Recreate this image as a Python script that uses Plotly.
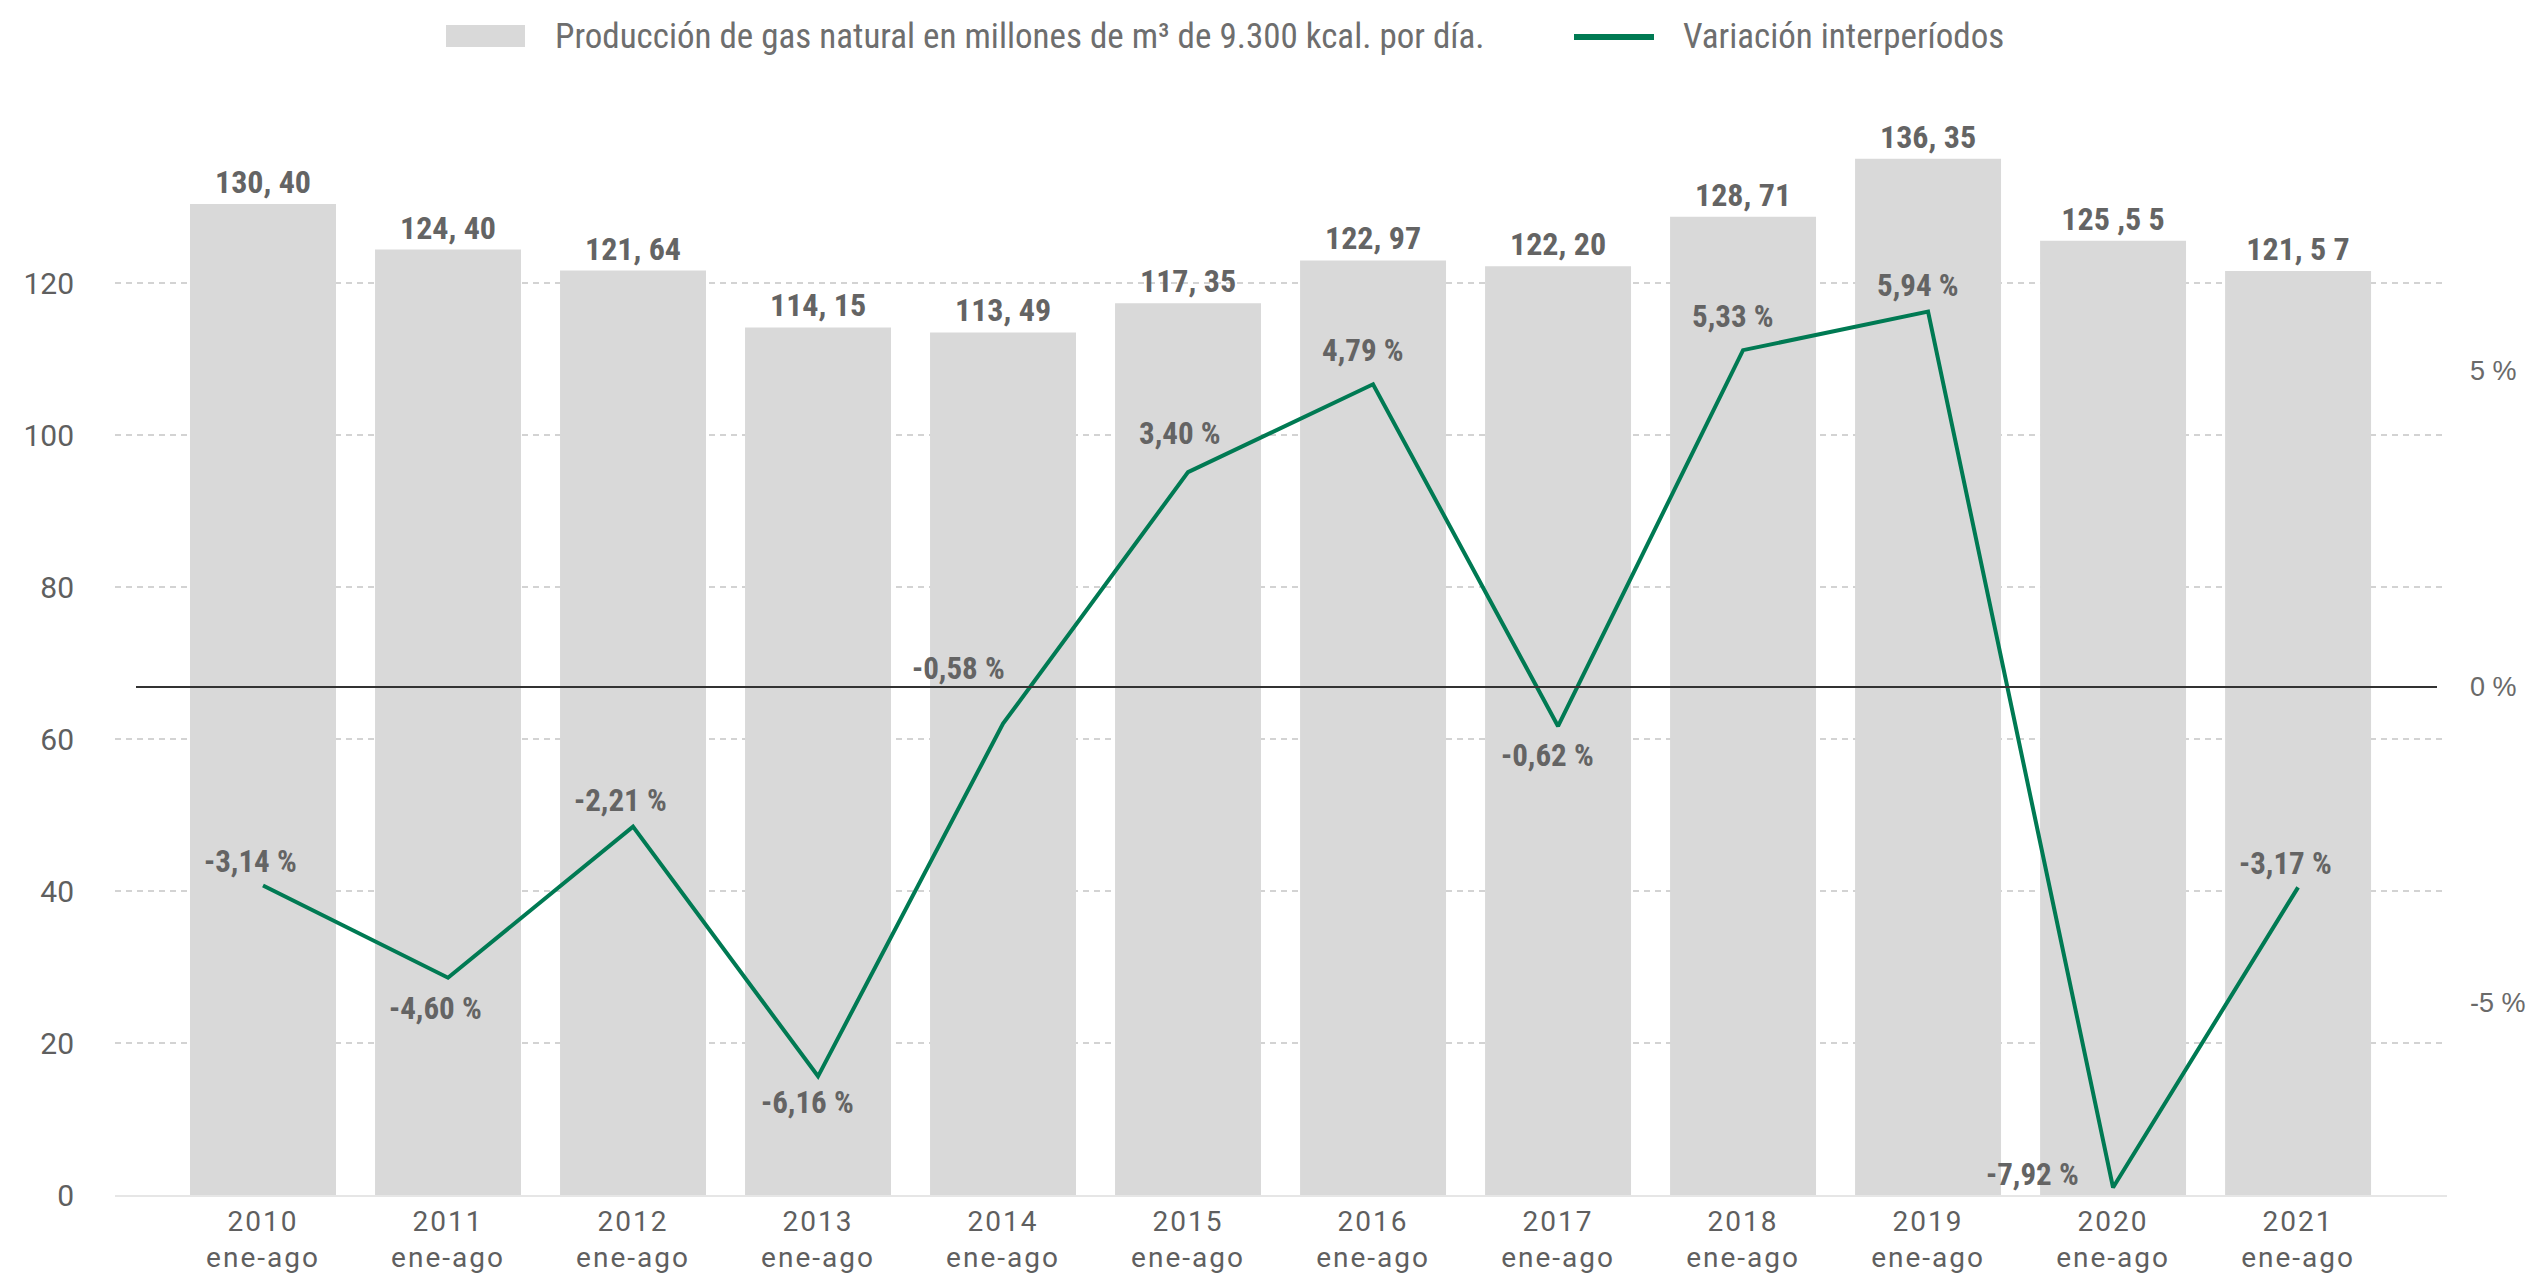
import plotly.graph_objects as go

# ---------------- data ----------------
years = ["2010", "2011", "2012", "2013", "2014", "2015",
         "2016", "2017", "2018", "2019", "2020", "2021"]
period = "ene-ago"
production = [130.40, 124.40, 121.64, 114.15, 113.49, 117.35,
              122.97, 122.20, 128.71, 136.35, 125.55, 121.57]
production_labels = ["130, 40", "124, 40", "121, 64", "114, 15", "113, 49", "117, 35",
                     "122, 97", "122, 20", "128, 71", "136, 35", "125 ,5 5", "121, 5 7"]
variation = [-3.14, -4.60, -2.21, -6.16, -0.58, 3.40,
             4.79, -0.62, 5.33, 5.94, -7.92, -3.17]
variation_labels = ["-3,14 %", "-4,60 %", "-2,21 %", "-6,16 %", "-0,58 %", "3,40 %",
                    "4,79 %", "-0,62 %", "5,33 %", "5,94 %", "-7,92 %", "-3,17 %"]
left_ticks = [0, 20, 40, 60, 80, 100, 120]
right_ticks = [-5, 0, 5]
right_ticktext = ["-5 %", "0 %", "5 %"]
series_names = ["Producción de gas natural en millones de m³ de 9.300 kcal. por día.",
                "Variación interperíodos"]

# label offsets (pixels) for the line data labels
label_dx = [-13, -13, -13, -11, -45, -8, -10, -11, -10, -10, -81, -13]
label_dy = [24, -31, 26, -26, 55, 39, 34, -29, 34, 26, 13, 24]

# ---------------- style ----------------
NARROW = "Liberation Sans Narrow, Roboto Condensed, DejaVu Sans Condensed, sans-serif"
ROBOTO = "Roboto, sans-serif"
BAR_COLOR = "#d9d9d9"
LINE_COLOR = "#007a53"
LABEL_COLOR = "#646464"
TICK_COLOR = "#5f5f5f"
SPACED = '<span style="letter-spacing:2px">{}</span>'

categories = [SPACED.format(y) + "<br>" + SPACED.format(period) for y in years]

W, H = 2527, 1277
ML, MR, MT, MB = 115, 80, 120, 82
plot_w = W - ML - MR
plot_h = H - MT - MB

fig = go.Figure()

fig.add_trace(go.Bar(
    x=categories, y=production, name=series_names[0],
    marker=dict(color=BAR_COLOR, line=dict(width=0)),
    text=production_labels, textposition="outside", constraintext="none",
    textfont=dict(family=NARROW, size=32, color=LABEL_COLOR, weight="bold"),
    cliponaxis=False, showlegend=False, yaxis="y",
))

fig.add_trace(go.Scatter(
    x=categories, y=variation, name=series_names[1], mode="lines",
    line=dict(color=LINE_COLOR, width=4),
    showlegend=False, yaxis="y2", cliponaxis=False,
))

annotations = []
for c, v, t, dx, dy in zip(categories, variation, variation_labels, label_dx, label_dy):
    annotations.append(dict(
        x=c, y=v, xref="x", yref="y2", text=t, showarrow=False,
        xshift=dx, yshift=dy, xanchor="center", yanchor="middle",
        font=dict(family=NARROW, size=31, color=LABEL_COLOR, weight="bold"),
    ))

# custom legend (paper coordinates)
def px_x(p):
    return (p - ML) / plot_w

def px_y(p):
    return (H - MB - p) / plot_h

annotations.append(dict(
    x=px_x(553), y=px_y(36), xref="paper", yref="paper", text=series_names[0],
    showarrow=False, xanchor="left", yanchor="middle",
    font=dict(family=NARROW, size=35, color="#6e6e6e"),
))
annotations.append(dict(
    x=px_x(1681), y=px_y(36), xref="paper", yref="paper", text=series_names[1],
    showarrow=False, xanchor="left", yanchor="middle",
    font=dict(family=NARROW, size=35, color="#6e6e6e"),
))

shapes = [
    dict(type="rect", xref="paper", yref="paper",
         x0=px_x(446), x1=px_x(525), y0=px_y(47), y1=px_y(25),
         fillcolor=BAR_COLOR, line=dict(width=0)),
    dict(type="line", xref="paper", yref="paper",
         x0=px_x(1574), x1=px_x(1654), y0=px_y(37), y1=px_y(37),
         line=dict(color=LINE_COLOR, width=6)),
    # zero reference line of the variation axis
    dict(type="line", xref="paper", yref="y2",
         x0=px_x(136), x1=px_x(2437), y0=0, y1=0,
         line=dict(color="#333333", width=2), layer="above"),
]

fig.update_layout(
    width=W, height=H,
    margin=dict(l=ML, r=MR, t=MT, b=MB, pad=0),
    paper_bgcolor="white", plot_bgcolor="white",
    template="none",
    bargap=0.211,
    showlegend=False,
    annotations=annotations,
    shapes=shapes,
    xaxis=dict(
        type="category", range=[-0.8, 11.805],
        showgrid=False, zeroline=False,
        showline=True, linecolor="#e6e6e6", linewidth=2,
        ticks="", automargin=False,
        tickfont=dict(family=ROBOTO, size=28, color=TICK_COLOR),
    ),
    yaxis=dict(
        range=[0, plot_h / 7.6], tickvals=left_ticks,
        showgrid=True, gridcolor="#d3d3d3", gridwidth=2, griddash="6px,5px",
        zeroline=False, showline=False, ticks="", automargin=False,
        ticklabelstandoff=40,
        tickfont=dict(family=ROBOTO, size=30, color=TICK_COLOR),
    ),
    yaxis2=dict(
        overlaying="y", side="right",
        range=[-(H - MB - 687) / 63.2, (687 - MT) / 63.2],
        tickvals=right_ticks, ticktext=right_ticktext,
        showgrid=False, zeroline=False, showline=False, ticks="",
        automargin=False, ticklabelstandoff=22,
        tickfont=dict(family="Liberation Sans, Arial, sans-serif", size=27, color="#6a6a6a"),
    ),
)

fig.write_html("out.html")
